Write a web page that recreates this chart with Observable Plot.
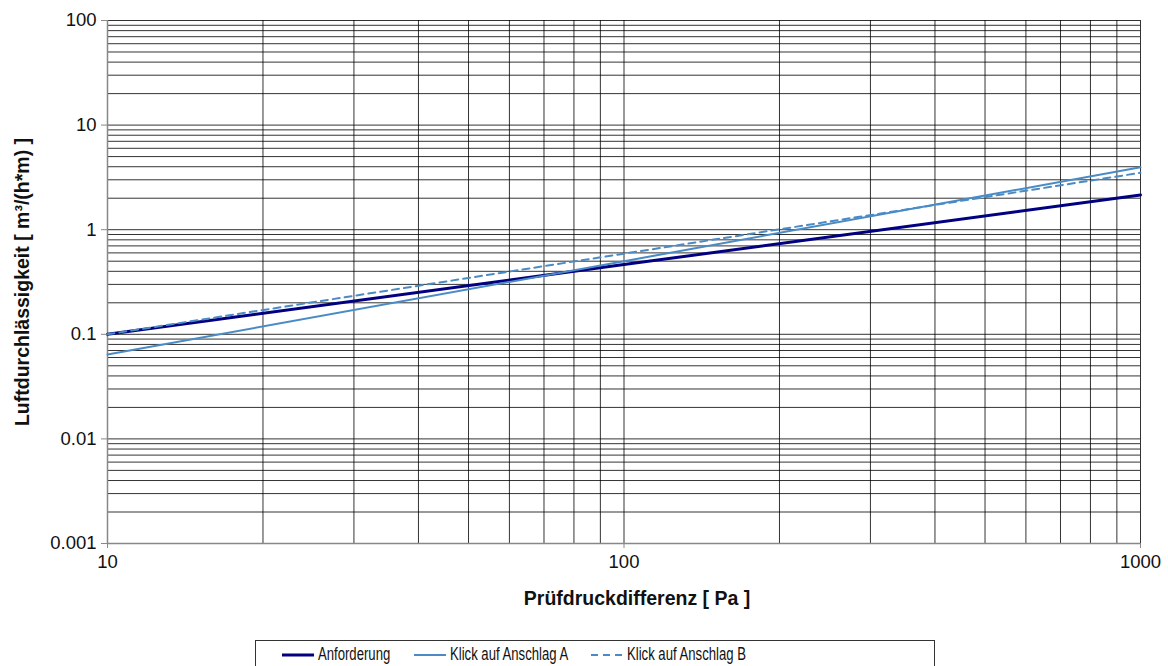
<!DOCTYPE html>
<html><head><meta charset="utf-8">
<script src="https://cdn.jsdelivr.net/npm/d3@7"></script>
<script src="https://cdn.jsdelivr.net/npm/@observablehq/plot@0.6"></script>
<style>
body{margin:0;background:#fff;font-family:"Liberation Sans",Arial,sans-serif;}
#wrap{position:relative;width:1168px;height:666px;overflow:hidden;}
#legend{position:absolute;left:255px;top:640px;width:680px;height:30px;border:1px solid #333;box-sizing:border-box;font-size:17.5px;color:#111;}
.item{position:absolute;top:3px;display:flex;align-items:center;white-space:nowrap;}
.item svg{margin-right:3px;}
.item span{display:inline-block;transform:scaleX(0.75);transform-origin:left center;}
</style></head>
<body><div id="wrap"><div id="chart"></div><div id="legend"></div></div>
<script>
const pressure = [10, 100, 1000];
const anforderung = [0.1, 0.464, 2.15];
const klickA = [0.064, 0.50, 3.95];
const klickB = [0.1, 0.59, 3.5];
const seriesNames = ["Anforderung", "Klick auf Anschlag A", "Klick auf Anschlag B"];
const xTickLabels = [10, 100, 1000];
const yTickLabels = [0.001, 0.01, 0.1, 1, 10, 100];

const colors = {"Anforderung":"#000080","Klick auf Anschlag A":"#4a8bc6","Klick auf Anschlag B":"#4a8bc6"};
const widths = {"Anforderung":3,"Klick auf Anschlag A":2,"Klick auf Anschlag B":2};
const dashes = {"Anforderung":null,"Klick auf Anschlag A":null,"Klick auf Anschlag B":"7,5"};

const seriesVals = [anforderung, klickA, klickB];
const data = [];
seriesNames.forEach((s, i) => pressure.forEach((p, j) => data.push({series: s, x: p, y: seriesVals[i][j]})));

// minor grid values (1..9 per decade)
const gridX = [];
for (let d = 10; d < 1000; d *= 10) for (let k = 1; k < 10; k++) gridX.push(d * k);
gridX.push(1000);
const gridY = [];
for (let d = 0.001; d < 99; d *= 10) for (let k = 1; k < 10; k++) gridY.push(+(d * k).toPrecision(3));
gridY.push(100);

const chart = Plot.plot({
  width: 1168, height: 625,
  marginLeft: 107, marginRight: 28, marginTop: 20, marginBottom: 82,
  style: {fontFamily: '"Liberation Sans", Arial, sans-serif', fontSize: "18px", color: "#111", background: "#fff"},
  x: {type: "log", domain: [10, 1000]},
  y: {type: "log", domain: [0.001, 100]},
  marks: [
    Plot.ruleX(gridX, {x: d => d, stroke: "#000", strokeOpacity: 0.8, strokeWidth: 1}),
    Plot.ruleY(gridY, {y: d => d, stroke: "#000", strokeOpacity: 0.8, strokeWidth: 1}),
    Plot.ruleX([10], {stroke: "#888", strokeWidth: 1.5}),
    Plot.ruleY([0.001], {stroke: "#888", strokeWidth: 1.5}),
    ...seriesNames.map(s => Plot.line(data.filter(d => d.series === s), {
      x: "x", y: "y", stroke: colors[s], strokeWidth: widths[s], strokeDasharray: dashes[s], curve: "linear"
    })),
    Plot.axisY({ticks: yTickLabels, tickFormat: d => String(d), tickSize: 6, tickPadding: 5, stroke: "#888", fontSize: 18.5, label: null}),
    Plot.axisX({ticks: xTickLabels, tickFormat: d => String(d), tickSize: 5, tickPadding: 6, stroke: "#888", fontSize: 18.5, label: null}),
    Plot.text(["Prüfdruckdifferenz [ Pa ]"], {frameAnchor: "bottom", dx: 13, dy: 61, fontWeight: "bold", fontSize: 19.5, fill: "#111"}),
    Plot.text(["Luftdurchlässigkeit [ m³/(h*m) ]"], {frameAnchor: "left", textAnchor: "middle", dx: -85, rotate: -90, fontWeight: "bold", fontSize: 19.5, fill: "#111"})
  ]
});
document.getElementById("chart").appendChild(chart);

const legend = document.getElementById("legend");
const lefts = [25, 157, 334];
seriesNames.forEach((s, i) => {
  const it = document.createElement("div");
  it.className = "item";
  it.style.left = lefts[i] + "px";
  it.innerHTML = `<svg width="34" height="10"><line x1="1" y1="5" x2="33" y2="5" stroke="${colors[s]}" stroke-width="${widths[s]}" ${dashes[s] ? `stroke-dasharray="${dashes[s]}"` : ""}/></svg><span>${s}</span>`;
  legend.appendChild(it);
});
</script></body></html>
